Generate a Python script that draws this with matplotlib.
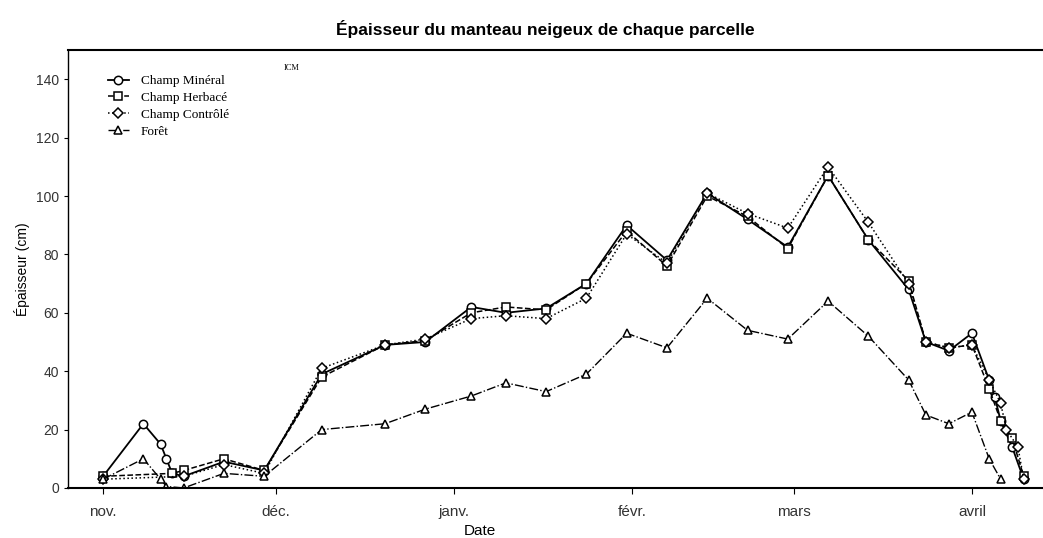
'''
Épaisseur du manteau neigeux de chaque parcelle (nov. -> avril)
'''

import matplotlib
matplotlib.use('Agg')
import matplotlib.pyplot as plt

# jours depuis le 1er novembre
jours_mineral = [0, 7, 10, 11, 12, 14, 21, 28, 38, 49, 56, 64, 70, 77, 84, 91, 98,
                 105, 112, 119, 126, 133, 140, 143, 147, 151, 154, 155, 156, 158, 160]
mineral = [4, 22, 15, 10, 5, 4, 9, 6, 39, 49, 50, 62, 60, 61.5, 70, 90, 78,
           101, 92, 82.5, 107, 85, 68, 50, 47, 53, 37, 31, 23, 14, 3]

jours_herbace = [0, 12, 14, 21, 28, 38, 49, 56, 64, 70, 77, 84, 91, 98,
                 105, 112, 119, 126, 133, 140, 143, 147, 151, 154, 156, 158, 160]
herbace = [4, 5, 6, 10, 6, 38, 49, 50.5, 60, 62, 61, 70, 88, 76,
           100, 93, 82, 107, 85, 71, 50, 48, 49, 34, 23, 17, 4]

jours_controle = [0, 14, 21, 28, 38, 49, 56, 64, 70, 77, 84, 91, 98,
                  105, 112, 119, 126, 133, 140, 143, 147, 151, 154, 156, 157, 159, 160]
controle = [3, 4, 8, 5, 41, 49, 51, 58, 59, 58, 65, 87, 77,
            101, 94, 89, 110, 91, 70, 50, 48, 49, 37, 29, 20, 14, 3]

jours_foret = [0, 7, 10, 11, 14, 21, 28, 38, 49, 56, 64, 70, 77, 84, 91, 98,
               105, 112, 119, 126, 133, 140, 143, 147, 151, 154, 156]
foret = [3, 10, 3, 0.5, 0, 5, 4, 20, 22, 27, 31.5, 36, 33, 39, 53, 48,
         65, 54, 51, 64, 52, 37, 25, 22, 26, 10, 3]

mois_pos = [0, 30, 61, 92, 120, 151]
mois_noms = ['nov.', 'déc.', 'janv.', 'févr.', 'mars', 'avril']

plt.rcParams['font.family'] = ['Liberation Sans', 'DejaVu Sans']

fig = plt.figure(figsize=(10.43, 5.38), dpi=100)
ax = fig.add_axes([0.0652, 0.093, 0.94, 0.814])

style = dict(color='black', markerfacecolor='white', markeredgecolor='black',
             markersize=6, markeredgewidth=1.1)
ax.plot(jours_mineral, mineral, '-', marker='o', lw=1.3, label='Champ Minéral', **style)
ax.plot(jours_herbace, herbace, '--', marker='s', lw=1.1, label='Champ Herbacé', **style)
ax.plot(jours_controle, controle, ':', marker='D', lw=1.1, label='Champ Contrôlé',
        **dict(style, markersize=5.5))
ax.plot(jours_foret, foret, '-.', marker='^', lw=1.0, label='Forêt', **style)

ax.set_xlim(-6.1, 164.3)
ax.set_ylim(0, 150)
ax.set_yticks(range(0, 141, 20))
ax.set_xticks(mois_pos)
ax.set_xticklabels(mois_noms, fontsize=11, color='#333333')
ax.tick_params(axis='y', labelsize=10, length=3, labelcolor='#333333')
ax.tick_params(axis='x', length=4, pad=8)
ax.spines['right'].set_visible(False)
ax.spines['bottom'].set_linewidth(1.5)
ax.spines['left'].set_linewidth(1.0)
ax.spines['top'].set_linewidth(1.5)

ax.set_ylabel('Épaisseur (cm)', fontsize=10)
ax.set_xlabel('Date', fontsize=11)
ax.xaxis.set_label_coords((478 - 68) / 975, -0.082)

fig.text(0.523, 0.947, 'Épaisseur du manteau neigeux de chaque parcelle',
         ha='center', va='center', fontsize=12.5, fontweight='bold')

leg = ax.legend(loc='upper left', bbox_to_anchor=(0.035, 0.955), frameon=False,
                prop={'family': 'Liberation Serif', 'size': 9.5},
                handlelength=1.6, handletextpad=0.9, labelspacing=0.35,
                borderaxespad=0)
ax.text(0.22, 0.955, 'ICM', transform=ax.transAxes, fontsize=6,
        family='Liberation Serif')

fig.savefig('out.png', dpi=100)
